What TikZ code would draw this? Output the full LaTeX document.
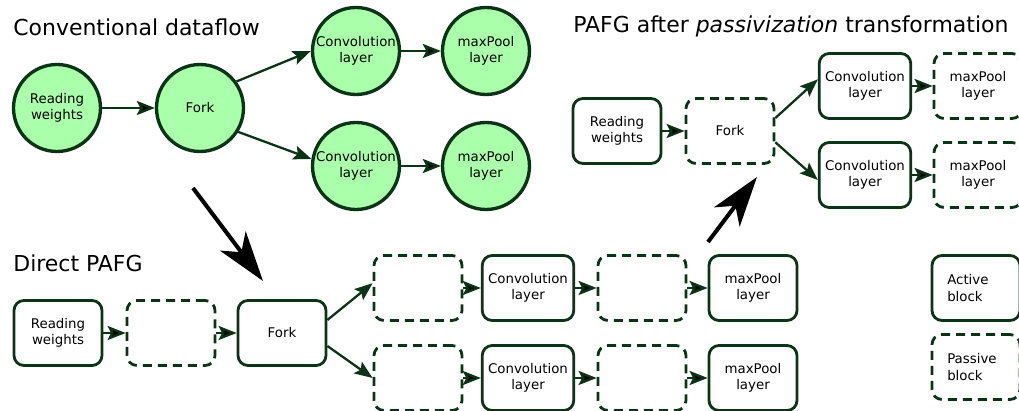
\documentclass[tikz,border=0pt]{standalone}
\usepackage{fontspec}
\setmainfont{DejaVu Sans}
\usetikzlibrary{arrows.meta}
\definecolor{dkgreen}{HTML}{0B3316}
\definecolor{ltgreen}{HTML}{AAFFAA}
\tikzstyle{lay}=[shape=circle,
                draw=dkgreen,
                fill=ltgreen,
                minimum size=1.74cm,
                inner sep=0pt,
                align=center,
                font=\fontsize{7.6}{9.2}\selectfont,
                line width=1.9pt]
\tikzstyle{act}=[shape=rectangle,
                rounded corners=0.2cm,
                draw=dkgreen,
                minimum height=1.3cm,
                minimum width=1.76cm,
                align=center,
                font=\fontsize{7.6}{9.2}\selectfont,
                line width=1.6pt]
\tikzstyle{pas}=[act,
                dash pattern=on 0.18cm off 0.12cm]
\tikzstyle{leg}=[text width=1.15cm,
                align=left]
\tikzstyle{ttl}=[anchor=base west,
                inner sep=0pt,
                font=\fontsize{12.5}{15}\selectfont]
\tikzstyle{flw}=[->,
                draw=dkgreen,
                line width=1.3pt]
\tikzstyle{big}=[-{Stealth[length=1cm,width=0.64cm,inset=0.28cm]},
                line width=2.3pt]

\begin{document}
\begin{tikzpicture}[x=0.02cm,y=-0.02cm,
  >={Stealth[length=0.36cm,width=0.28cm,inset=0.07cm]}]
\useasboundingbox (0,0) rectangle (1019,411);
\clip (0,0) rectangle (1019,411);

% titles
\node[ttl] (tCv) at (13,36)  {Conventional dataflow};
\node[ttl] (tPa) at (573,33) {PAFG after \textit{passivization} transformation};
\node[ttl] (tDp) at (13,272) {Direct PAFG};

% conventional dataflow (circles)
\node[lay] (cRw) at (57,108)  {Reading\\weights};
\node[lay] (cFk) at (200,108) {Fork};
\node[lay] (cCa) at (356,51)  {Convolution\\layer};
\node[lay] (cMa) at (486,51)  {maxPool\\layer};
\node[lay] (cCb) at (356,166) {Convolution\\layer};
\node[lay] (cMb) at (486,166) {maxPool\\layer};

% PAFG after passivization
\node[act] (pRw) at (617,131) {Reading\\weights};
\node[pas] (pFk) at (730,131) {Fork};
\node[act] (pCa) at (865,86)  {Convolution\\layer};
\node[act] (pCb) at (865,175) {Convolution\\layer};
\node[pas] (pMa) at (978,86)  {maxPool\\layer};
\node[pas] (pMb) at (978,175) {maxPool\\layer};

% direct PAFG
\node[act] (dRw) at (58,333)  {Reading\\weights};
\node[pas] (dP0) at (171,333) {};
\node[act] (dFk) at (282,333) {Fork};
\node[pas] (dPa) at (418,288) {};
\node[pas] (dPb) at (418,378) {};
\node[act] (dCa) at (528,288) {Convolution\\layer};
\node[act] (dCb) at (528,378) {Convolution\\layer};
\node[pas] (dQa) at (642,288) {};
\node[pas] (dQb) at (642,378) {};
\node[act] (dMa) at (753,288) {maxPool\\layer};
\node[act] (dMb) at (753,378) {maxPool\\layer};

% legend
\node[act,leg] (lAc) at (976,288) {Active\\block};
\node[pas,leg] (lPs) at (976,367) {Passive\\block};

% paths (arrows) in the conventional dataflow
\path[flw] (cRw) edge (cFk)
           (cCa) edge (cMa)
           (cCb) edge (cMb);
\draw[flw] (cFk.36) -- (cCa.west);
\draw[flw] (cFk.328) -- (cCb.171);
% paths (arrows) after passivization
\path[flw] (pRw) edge (pFk)
           (pCa) edge (pMa)
           (pCb) edge (pMb);
\draw[flw] (pFk.16) -- (pCa.172);
\draw[flw] (pFk.346) -- (pCb.186);
% paths (arrows) in the direct PAFG
\path[flw] (dRw) edge (dP0)
           (dP0) edge (dFk)
           (dPa) edge (dCa)
           (dPb) edge (dCb)
           (dCa) edge (dQa)
           (dCb) edge (dQb)
           (dQa) edge (dMa)
           (dQb) edge (dMb);
\draw[flw] (dFk.16) -- (dPa.174);
\draw[flw] (dFk.344) -- (dPb.west);

% transformation arrows
\coordinate (sA) at (193,188);
\coordinate (eA) at (263,281);
\coordinate (sB) at (708,242);
\coordinate (eB) at (757,177);
\draw[big] (sA) -- (eA);
\draw[big] (sB) -- (eB);
\end{tikzpicture}
\end{document}
